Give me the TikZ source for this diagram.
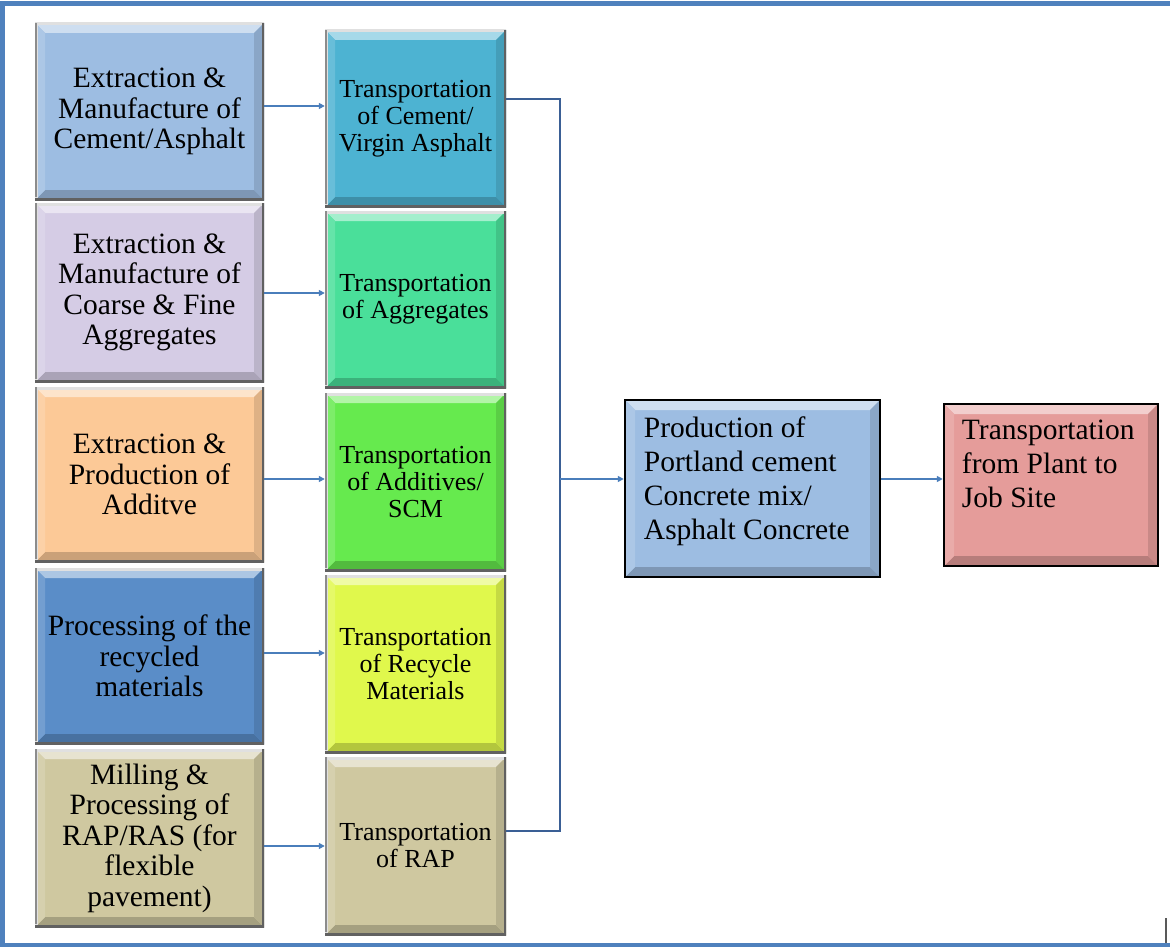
\documentclass[tikz,border=0pt]{standalone}
\usepackage{fontspec}
\setmainfont{Liberation Serif}
\usetikzlibrary{calc,arrows.meta}

% palette
\definecolor{frameblue}{HTML}{4F81BD}
\definecolor{linkblue}{HTML}{4A7EBB}
\definecolor{busblue}{HTML}{3A5F95}
\definecolor{cLa}{HTML}{9DBDE2}
\definecolor{cLb}{HTML}{D5CCE5}
\definecolor{cLc}{HTML}{FCC997}
\definecolor{cLd}{HTML}{5A8DC8}
\definecolor{cLe}{HTML}{CFC8A0}
\definecolor{cMa}{HTML}{4DB3D2}
\definecolor{cMb}{HTML}{4ADF9A}
\definecolor{cMc}{HTML}{66EA4E}
\definecolor{cMd}{HTML}{E0F84C}
\definecolor{cMe}{HTML}{CFC8A0}
\definecolor{cProd}{HTML}{9DBDE2}
\definecolor{cShip}{HTML}{E59C9A}

% bevelled faces of a box, drawn inside its path picture
\newcommand\bevfaces[1]{%
  \path (path picture bounding box.north west) coordinate (bNW)
        (path picture bounding box.north east) coordinate (bNE)
        (path picture bounding box.south west) coordinate (bSW)
        (path picture bounding box.south east) coordinate (bSE);
  \fill[#1!50!white] (bNW) -- (bNE) -- ($(bNE)+(-10pt,-10pt)$) -- ($(bNW)+(10pt,-10pt)$) -- cycle;
  \fill[#1!80!black] (bSW) -- (bSE) -- ($(bSE)+(-10pt,10pt)$) -- ($(bSW)+(10pt,10pt)$) -- cycle;
  \fill[#1!88!black] (bNE) -- (bSE) -- ($(bSE)+(-10pt,10pt)$) -- ($(bNE)+(-10pt,-10pt)$) -- cycle;
  \fill[#1!85!white] (bNW) -- (bSW) -- ($(bSW)+(10pt,10pt)$) -- ($(bNW)+(10pt,-10pt)$) -- cycle;
}

\tikzset{
  x=1pt, y=-1pt,
  raised/.style={rectangle, inner sep=0pt, fill=#1, align=center,
    path picture={\bevfaces{#1}
      \draw[line width=5pt, black!12] (bSW) -- (bNW) -- (bNE);
      \draw[line width=4pt, black!45] ($(bSW)+(0,3pt)$) -- (bNW);
      \draw[line width=5pt, black!62] (bNE) -- (bSE) -- (bSW);
    }},
  lbox/.style={raised=#1, minimum width=229pt,
    font=\fontsize{29.5}{30.5}\selectfont},
  mbox/.style={raised=#1, minimum width=181pt,
    font=\fontsize{26}{27}\selectfont},
  stage/.style={rectangle, inner sep=0pt, fill=#1, draw=black, line width=2.5pt,
    path picture={\bevfaces{#1}}},
  stagetext/.style={inner sep=0pt, align=left, anchor=north west,
    font=\fontsize{29.5}{34}\selectfont},
  link/.style={draw=linkblue, line width=2pt, -{Triangle[length=6pt,width=6pt]}},
  bus/.style={draw=busblue, line width=1.6pt},
}

\begin{document}
\begin{tikzpicture}
\useasboundingbox (0,0) rectangle (1170,947);
\fill[white] (0,0) rectangle (1170,947);

% outer frame (open on the right)
\draw[frameblue, line width=4.5pt] (1170,3.5) -- (2.5,3.5) -- (2.5,945) -- (1170,945);
\draw[black!65, line width=2pt] (1166,918) -- (1166,943);

% sources
\node[lbox=cLa, minimum height=177pt] (l1) at (149.5,111.5) {Extraction \&\\Manufacture of\\Cement/Asphalt};
\node[lbox=cLb, minimum height=179pt] (l2) at (149.5,292.5) {Extraction \&\\Manufacture of\\Coarse \& Fine\\Aggregates};
\node[lbox=cLc, minimum height=175pt] (l3) at (149.5,474.5) {Extraction \&\\Production of\\Additve};
\node[lbox=cLd, minimum height=176pt] (l4) at (149.5,656) {Processing of the\\recycled\\materials};
\node[lbox=cLe, minimum height=178pt] (l5) at (149.5,838) {Milling \&\\Processing of\\RAP/RAS (for\\flexible\\pavement)};

% transport legs
\node[mbox=cMa, minimum height=177pt] (m1) at (415.5,118.5) {Transportation\\of Cement/\\Virgin Asphalt};
\node[mbox=cMb, minimum height=177pt] (m2) at (415.5,299.5) {Transportation\\of Aggregates};
\node[mbox=cMc, minimum height=178pt] (m3) at (415.5,482) {Transportation\\of Additives/\\SCM};
\node[mbox=cMd, minimum height=178pt] (m4) at (415.5,664) {Transportation\\of Recycle\\Materials};
\node[mbox=cMe, minimum height=178pt] (m5) at (415.5,846) {Transportation\\of RAP};

% plant and delivery
\node[stage=cProd, minimum width=255pt, minimum height=177pt] (prod) at (752.5,488.5) {};
\node[stagetext] (prodtext) at ($(prod.north west)+(20pt,-18pt)$) {Production of\\Portland cement\\Concrete mix/\\Asphalt Concrete};
\node[stage=cShip, minimum width=214pt, minimum height=162pt] (ship) at (1051,485) {};
\node[stagetext] (shiptext) at ($(ship.north west)+(19pt,-17pt)$) {Transportation\\from Plant to\\Job Site};

% links from sources to transport
\draw[link] (l1.east |- 0,106) -- (m1.west |- 0,106);
\draw[link] (l2.east |- 0,293) -- (m2.west |- 0,293);
\draw[link] (l3.east |- 0,479) -- (m3.west |- 0,479);
\draw[link] (l4.east |- 0,653) -- (m4.west |- 0,653);
\draw[link] (l5.east |- 0,846) -- (m5.west |- 0,846);

% collecting bus
\coordinate (jt) at (560,99);
\coordinate (jb) at (560,831);
\coordinate (jm) at (560,479);
\draw[bus] (m1.east |- jt) -- (jt) -- (jb) -- (m5.east |- jb);
\draw[link] (jm) -- (prod.west |- jm);
\draw[link] (prod.east |- jm) -- (ship.west |- jm);
\end{tikzpicture}
\end{document}
